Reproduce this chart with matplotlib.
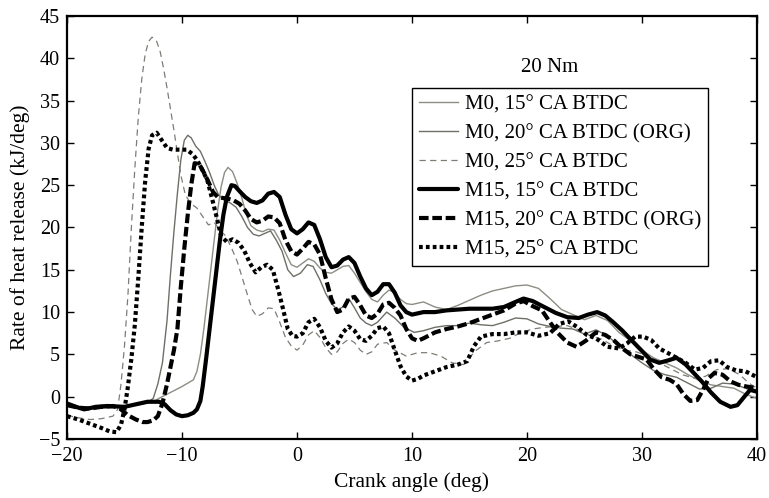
import matplotlib
matplotlib.use("Agg")
import matplotlib.pyplot as plt

plt.rcParams['font.family'] = ['Liberation Serif', 'DejaVu Serif']

# ---------------- data ----------------
x_m0_15 = [-20,-18,-16,-14,-12.5,-12,-11,-10,-9,-8.7,-8.4,-8.1,-7.8,-7.5,-7.2,-6.9,-6.6,-6.3,-6,-5.6,
           -5.2,-4.8,-4.4,-4,-3.5,-3,-2.5,-2,-1.5,-1,-0.5,0,0.5,1,1.5,2,2.5,3,3.5,4,
           4.5,5,5.5,6,6.5,7,7.5,8,8.5,9,9.5,10,11,12,13,14,15,16,17,18,
           19,20,21,22,23,24,25,26,27,28,29,30,31,32,33,34,35,36,37,38,39,40]
y_m0_15 = [-1.0,-1.3,-1.2,-1.0,-0.6,-0.2,0.5,1.2,2.0,3.0,5.0,8.0,11.5,15,18.5,22,24.8,26.5,27.1,26.6,
           25.2,23.5,21.5,20.2,19.7,19.5,19.8,19.7,18.5,17.0,15.6,15.3,15.8,16.3,16.0,15.2,14.7,14.6,15.0,15.4,
           15.5,14.6,13.5,12.4,11.5,11.2,12.0,12.6,12.3,11.5,11.0,10.9,11.2,10.6,10.3,10.8,11.4,12.0,12.5,12.8,
           13.1,13.2,12.8,11.6,10.3,9.7,9.1,9.6,9.0,7.6,6.6,5.5,4.6,4.0,3.4,2.6,1.9,1.4,1.2,1.0,0.3,-0.2]

x_m0_20 = [-20,-18,-16,-14,-13,-12.5,-12.1,-11.7,-11.3,-11,-10.7,-10.4,-10.1,-9.8,-9.5,-9.2,-8.8,-8.4,-8,-7.6,
           -7.2,-6.8,-6.3,-5.8,-5.3,-4.8,-4.3,-3.8,-3.3,-2.8,-2.3,-1.8,-1.3,-0.8,-0.3,0.3,0.9,1.4,2,2.5,
           3,3.5,4,4.5,5,5.5,6,6.5,7,7.8,8.5,9.3,10.2,11,12,13,14,15,16,17,
           18,19,20,21,22,23,24,25,26,27,28,29,30,31,32,33,34,35,36,37,38,39,40]
y_m0_20 = [-1.1,-1.4,-1.3,-1.0,-0.7,-0.2,1.5,4,9,14.5,19.5,24,28,30.3,30.9,30.6,29.6,29.0,27.8,26.5,
           25.0,23.8,23.2,22.9,22.4,21.3,20.0,19.2,19.0,19.3,19.6,18.5,17.2,15.0,14.2,14.6,15.6,15.4,13.8,12.2,
           11.0,10.3,10.6,11.6,10.5,9.3,8.7,8.4,8.8,10.0,9.3,8.2,7.6,7.8,8.2,8.4,8.4,8.7,8.5,8.4,
           8.8,9.3,9.2,8.6,8.3,8.1,8.0,7.4,7.9,7.2,6.0,5.0,4.0,3.1,2.6,2.3,1.6,0.9,1.0,1.6,1.5,1.0,0.4]

x_m0_25 = [-20,-19,-18,-17,-16,-15.6,-15.3,-15,-14.7,-14.4,-14.1,-13.8,-13.5,-13.2,-12.9,-12.6,-12.2,-11.9,-11.6,-11.3,
           -11,-10.7,-10.4,-10.1,-9.7,-9.2,-8.7,-8.2,-7.7,-7.2,-6.7,-6.2,-5.7,-5.2,-4.7,-4.3,-3.9,-3.5,-3,-2.5,
           -2,-1.5,-1,-0.5,0,0.5,1,1.5,2,2.5,3,3.5,4,4.5,5,5.5,6,6.5,7,7.8,
           8.5,9.5,10.5,11.5,12.5,13.5,14.5,15.5,16.5,17.5,18.5,19.5,20.5,21.5,22.5,23.5,24.5,25.5,26.5,27.5,
           28.5,29.5,30.5,31.5,32.5,33.5,34.5,35.5,36.5,37.5,38.5,39.3,40]
y_m0_25 = [-2.2,-2.5,-2.7,-2.6,-2.3,-1.5,1.5,6,12,20,27,33,37.5,40.5,42,42.5,42,40.8,38.8,36.5,
           34.0,31.5,28.8,26.2,23.8,22.8,22.3,21.3,20.3,20.6,19.7,19.0,17.6,16.0,13.8,12.0,10.3,9.5,9.8,10.5,
           10.4,8.8,7.0,6.0,5.5,6.1,7.3,7.8,7.0,5.8,5.0,5.3,6.3,6.8,6.4,5.5,5.0,5.3,6.2,6.4,
           5.5,4.8,5.2,5.2,4.8,4.0,3.8,5.4,6.4,6.6,6.9,7.6,8.0,8.2,8.3,8.4,7.9,7.2,6.8,6.0,
           5.5,5.3,4.8,4.0,3.3,2.6,2.2,2.4,3.2,3.3,2.6,1.6,1.0]

x_m15_15 = [-20,-19,-18.5,-17.5,-16.5,-15,-14,-13,-12,-11.5,-11,-10.5,-10,-9.5,-9,-8.7,-8.4,-8.2,-7.9,-7.6,
            -7.3,-7,-6.7,-6.4,-6.1,-5.7,-5.4,-5,-4.5,-4,-3.5,-3,-2.5,-2,-1.5,-1,-0.5,0,0.5,1,
            1.5,2,2.5,3,3.5,4,4.5,5,5.5,6,6.5,7,7.5,8,8.5,9,9.5,10,11,12,
            13,14,15,16,17,18,19,19.7,20.5,21.5,22.5,23.5,24.5,25.3,26.1,26.8,27.5,28.3,29,30,
            30.7,31.5,32.3,33,33.8,34.5,35.2,36,36.8,37.7,38.3,38.9,39.4,40]
y_m15_15 = [-0.8,-1.3,-1.5,-1.2,-1.1,-1.2,-0.9,-0.6,-0.6,-0.9,-1.6,-2.1,-2.3,-2.2,-1.9,-1.5,-0.5,1.2,4.5,8,
            11.5,15,18.5,21.5,23.6,25,24.9,24.3,23.6,23.1,22.9,23.2,24.0,24.2,23.6,21.5,19.8,19.3,19.8,20.6,
            20.3,18.6,16.5,15.3,15.5,16.2,16.5,15.8,14.2,12.8,12.0,12.4,13.3,13.3,12.3,10.8,10.0,9.7,10.0,10.0,
            10.2,10.3,10.4,10.4,10.4,10.6,11.2,11.6,11.3,10.6,9.9,9.4,9.3,9.7,10.0,9.6,8.8,7.8,6.8,5.4,
            4.4,4.0,4.3,4.6,3.8,2.8,1.8,0.5,-0.6,-1.2,-1.0,0.0,0.8,0.6]

x_m15_20 = [-20,-19,-18,-17,-16,-15.4,-14.7,-14,-13.4,-13,-12.5,-12.1,-11.7,-11.3,-11,-10.7,-10.4,-10.1,-9.8,-9.5,
            -9.2,-8.9,-8.5,-8.1,-7.7,-7.3,-6.9,-6.5,-6,-5.5,-5,-4.5,-4,-3.5,-3,-2.5,-2,-1.5,-1,-0.5,
            0,0.5,1,1.5,2,2.5,3,3.5,4,4.5,5,5.5,6,6.5,7,7.5,8,8.5,9,9.5,
            10,10.5,11,12,13,14,15,16,17,18,19,19.7,20.5,21.3,22,22.7,23.5,24.3,25.1,26,
            26.8,27.6,28.3,29,29.7,30.4,31,31.7,32.4,33,33.6,34.2,34.8,35.3,35.8,36.3,37,37.7,38.4,39.1,40]
y_m15_20 = [-1.0,-1.3,-1.4,-1.2,-1.1,-1.4,-2.2,-2.7,-3.0,-3.0,-2.8,-2.3,-0.8,1.5,3.5,5.5,8,13,17.5,21.5,
            25,27.6,27.5,26.5,25.4,24.2,23.6,23.5,23.4,23.2,22.8,22.0,21.0,20.6,20.8,21.3,21.2,20.5,18.5,17.2,
            16.8,17.5,18.3,18,16.8,14,11.5,10.0,10.3,11.6,11.8,10.8,9.6,9.3,9.8,10.9,11.1,10.5,9.6,8,
            6.9,6.6,6.9,7.6,8.0,8.3,8.7,9.2,9.7,10.2,11.0,11.3,10.7,10.2,8.8,7.5,6.4,5.9,6.6,7.6,
            7.3,6.6,5.7,5.0,4.7,4.4,3.3,2.3,2.0,1.5,0.3,-0.5,-0.4,0.8,2.2,2.8,2.6,1.8,1.4,1.2,1.0]

x_m15_25 = [-20,-19,-18,-17,-16.3,-15.7,-15.3,-15,-14.7,-14.4,-14.1,-13.8,-13.5,-13.2,-12.9,-12.6,-12.2,-11.8,-11.3,-10.8,
            -10.2,-9.6,-9.1,-8.7,-8.3,-7.8,-7.4,-7,-6.6,-6.1,-5.6,-5.1,-4.6,-4.1,-3.6,-3.1,-2.6,-2.1,-1.6,-1.2,
            -0.8,-0.4,0,0.5,1,1.5,2,2.5,3,3.5,4,4.5,5,5.5,6,6.5,7,7.5,8,8.5,
            9,9.5,10,10.5,11,12,13,14,14.8,15.4,16,17,18,19,20,21,22,22.8,23.6,24.4,
            25.2,26,27,28,28.7,29.4,30.1,30.8,31.5,32.2,33,33.8,34.6,35.3,36,36.7,37.4,38.2,39,40]
y_m15_25 = [-2.3,-2.7,-3.2,-3.7,-4.1,-4.2,-3.3,-1.5,1.2,4.5,8.5,14,20,25.5,29.3,30.9,31.2,30.4,29.4,29.2,
            29.2,29.2,28.7,28.0,27.0,25.6,23.5,21.3,19.0,18.3,18.6,18.2,17.3,15.8,14.7,15.3,15.6,15.0,12.5,10.3,
            8.0,7.2,7.1,7.5,8.8,9.2,8.2,6.6,5.8,6.3,7.6,8.3,7.8,6.8,6.6,7.2,8.1,8.3,7.5,5.5,
            3.6,2.4,1.9,2.1,2.5,3.0,3.5,3.8,4.2,6.0,7.1,7.4,7.4,7.6,7.6,7.2,7.5,8.6,8.9,8.2,
            7.3,6.9,5.9,5.7,6.3,7.1,7.1,6.7,5.7,5.2,4.6,4.0,3.2,3.4,4.2,4.3,3.5,3.1,3.0,2.3]

labels = ["M0, 15° CA BTDC", "M0, 20° CA BTDC (ORG)", "M0, 25° CA BTDC",
          "M15, 15° CA BTDC", "M15, 20° CA BTDC (ORG)", "M15, 25° CA BTDC"]
x_ticks = [-20, -10, 0, 10, 20, 30, 40]
y_ticks = [-5, 0, 5, 10, 15, 20, 25, 30, 35, 40, 45]

# ---------------- plot ----------------
fig = plt.figure(figsize=(7.69, 4.98), dpi=100)
ax = fig.add_axes([0.0871, 0.1185, 0.8973, 0.8494])

ax.plot(x_m0_15, y_m0_15, color='#8d8d84', lw=1.0, label=labels[0])
ax.plot(x_m0_20, y_m0_20, color='#6f6f68', lw=1.0, label=labels[1])
ax.plot(x_m0_25, y_m0_25, color='#7d7d76', lw=0.9, dashes=(5, 3.5), label=labels[2])
ax.plot(x_m15_15, y_m15_15, color='black', lw=3.0, solid_capstyle='round', label=labels[3])
ax.plot(x_m15_20, y_m15_20, color='black', lw=3.0, dashes=(2.3, 0.9), label=labels[4])
ax.plot(x_m15_25, y_m15_25, color='black', lw=3.0, dashes=(0.9, 0.75), label=labels[5])

ax.set_xlim(-20, 40)
ax.set_ylim(-5, 45)
ax.set_xticks(x_ticks)
ax.set_yticks(y_ticks)
ax.set_xticklabels(['\u221220', '\u221210', '0', '10', '20', '30', '40'])
ax.set_yticklabels(['\u22125'] + [str(v) for v in y_ticks[1:]])
ax.tick_params(direction='in', top=True, right=True, length=5, width=1.0, labelsize=14.5)
ax.tick_params(axis='x', pad=6)
ax.tick_params(axis='y', pad=5)
for s in ax.spines.values():
    s.set_linewidth(1.6)

ax.set_xlabel('Crank angle (deg)', fontsize=15.5, labelpad=4)
ax.set_ylabel('Rate of heat release (kJ/deg)', fontsize=15.5, labelpad=6)

leg = ax.legend(loc='upper left', bbox_to_anchor=(0.5, 0.83), borderaxespad=0,
                fontsize=15, frameon=True, fancybox=False, handlelength=1.9,
                handletextpad=0.3, labelspacing=0.45, borderpad=0.33)
leg.get_frame().set_edgecolor('black')
leg.get_frame().set_linewidth(1.0)
leg.get_frame().set_alpha(1)

ax.text(0.7, 0.879, '20 Nm', transform=ax.transAxes, ha='center', va='center', fontsize=15)

fig.savefig('out.png', dpi=100)
